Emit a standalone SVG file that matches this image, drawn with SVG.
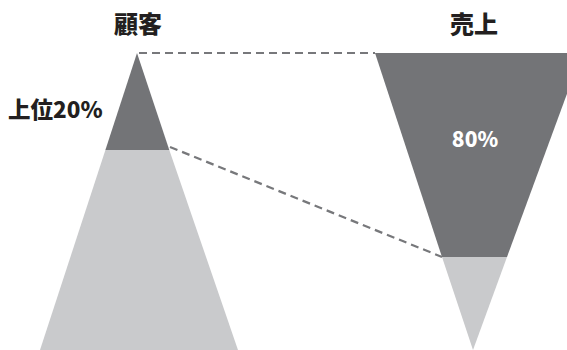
<svg xmlns="http://www.w3.org/2000/svg" width="567" height="350" viewBox="0 0 567 350">
<style>
.dark{fill:#737477}
.light{fill:#c9cacc}
.lbl{font-family:"Noto Sans CJK JP","Noto Sans",sans-serif;font-weight:900;fill:#231f20}
.dash{stroke:#77787b;stroke-width:2.2;stroke-dasharray:8 5;fill:none}
</style>
<rect width="567" height="350" fill="#fff"/>
<g id="customers">
<polygon class="light" points="105.4,150 169.3,150 238,350 40,350"/>
<polygon class="dark" points="137,53 169.3,150 105.4,150"/>
<text class="lbl" x="138" y="33" font-size="24" text-anchor="middle">顧客</text>
<text class="lbl" x="8" y="118" font-size="22.5">上位20%</text>
</g>
<g id="sales">
<polygon class="dark" points="375,53 582,53 507,257 442,257"/>
<polygon class="light" points="442,257 507,257 473,350"/>
<text class="lbl" x="474" y="33" font-size="24" text-anchor="middle">売上</text>
<text class="lbl" x="475" y="147" font-size="21" text-anchor="middle" style="fill:#fff">80%</text>
</g>
<g id="connectors">
<line class="dash" x1="139" y1="53" x2="375" y2="53"/>
<line class="dash" x1="170" y1="147" x2="442" y2="257"/>
</g>
</svg>
